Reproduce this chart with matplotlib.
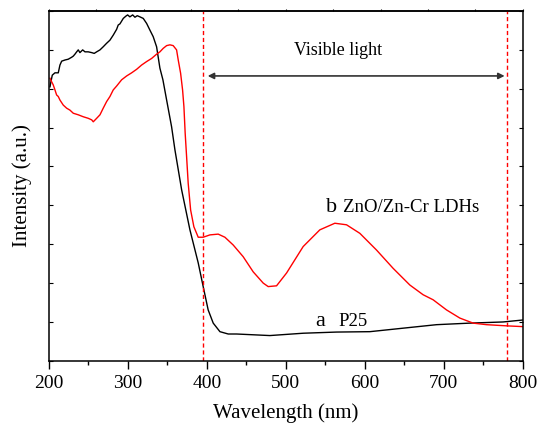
import matplotlib
matplotlib.use('Agg')
import matplotlib.pyplot as plt
import numpy as np

plt.rcParams['font.family'] = ['Liberation Serif', 'DejaVu Serif']

# ─── spectra (wavelength nm, intensity a.u.) ────────────────────
p25_wl = [201.3, 202.5, 204.2, 207.6, 211.8, 213.9, 216.1, 220.3, 224.4, 228.7,
          230.8, 232.9, 235.1, 237.1, 239.2, 242.7, 245.6, 249.7, 254.1, 257.3,
          260.4, 264.6, 268.7, 273.0, 277.2, 281.4, 285.7, 287.7, 289.9, 294.1,
          297.5, 299.6, 302.5, 306.0, 308.9, 311.8, 315.2, 319.4, 323.7, 327.8,
          332.0, 336.3, 340.5, 344.3, 349.0, 355.3, 359.5, 368.0, 378.5, 389.0,
          395.3, 401.6, 408.0, 416.5, 427.0, 437.6, 479.7, 521.9, 564.2, 606.3,
          648.5, 690.8, 732.9, 775.1, 800.0]
p25_int = [7.05, 7.18, 7.35, 7.41, 7.41, 7.61, 7.71, 7.74, 7.76, 7.81,
           7.84, 7.89, 7.95, 8.00, 7.93, 8.00, 7.95, 7.95, 7.93, 7.91,
           7.95, 8.00, 8.08, 8.17, 8.25, 8.38, 8.53, 8.64, 8.67, 8.81,
           8.87, 8.90, 8.85, 8.90, 8.84, 8.88, 8.85, 8.81, 8.68, 8.51,
           8.34, 8.08, 7.53, 7.23, 6.71, 6.02, 5.43, 4.40, 3.37, 2.52,
           1.91, 1.31, 0.97, 0.75, 0.69, 0.69, 0.65, 0.71, 0.74, 0.75,
           0.84, 0.93, 0.97, 1.00, 1.05]

ldh_wl = [201.3, 203.4, 205.4, 207.6, 209.7, 211.8, 213.9, 218.1, 222.4, 226.6,
          230.8, 237.1, 243.4, 249.7, 254.1, 256.1, 260.4, 264.6, 268.7, 273.0,
          277.2, 281.4, 285.7, 292.0, 298.4, 304.7, 311.0, 317.3, 323.7, 330.0,
          336.3, 340.5, 344.7, 349.0, 353.2, 357.3, 361.6, 363.7, 366.7, 369.2,
          370.9, 372.5, 374.3, 376.3, 379.4, 383.5, 389.0, 395.3, 403.8, 414.3,
          422.8, 433.3, 445.9, 458.6, 471.3, 477.6, 488.2, 500.9, 521.9, 543.0,
          562.0, 576.8, 593.7, 614.8, 635.8, 657.0, 673.8, 686.5, 703.4, 720.3,
          737.1, 754.1, 779.4, 800.0]
ldh_int = [7.27, 7.18, 7.10, 6.97, 6.84, 6.80, 6.71, 6.58, 6.50, 6.45,
           6.37, 6.33, 6.28, 6.24, 6.20, 6.15, 6.24, 6.33, 6.50, 6.67,
           6.80, 6.97, 7.07, 7.23, 7.33, 7.41, 7.50, 7.61, 7.70, 7.78,
           7.89, 7.95, 8.04, 8.11, 8.13, 8.11, 8.00, 7.74, 7.40, 6.97,
           6.54, 5.85, 5.25, 4.57, 3.88, 3.45, 3.18, 3.18, 3.24, 3.26,
           3.18, 2.98, 2.68, 2.29, 2.00, 1.91, 1.93, 2.26, 2.94, 3.37,
           3.54, 3.50, 3.28, 2.85, 2.38, 1.95, 1.70, 1.57, 1.31, 1.10,
           0.97, 0.93, 0.90, 0.88]

visible_edges = [395, 780]

fig = plt.figure(figsize=(5.44, 4.24), dpi=100)
ax = fig.add_axes([0.090, 0.149, 0.871, 0.825])

ax.plot(p25_wl, p25_int, color='black', linewidth=1.0)
ax.plot(ldh_wl, ldh_int, color='#ff0000', linewidth=1.0)

for edge in visible_edges:
    ax.axvline(edge, color='#ff0000', linestyle=(0, (3, 2)), linewidth=1.0)

# visible range arrow
ax.annotate('', xy=(401, 7.33), xytext=(777, 7.33),
            arrowprops=dict(arrowstyle='<|-|>', color='#333333', lw=1.2,
                            mutation_scale=9, shrinkA=0, shrinkB=0))
ax.text(566, 7.87, 'Visible light', ha='center', va='baseline', fontsize=13)

ax.text(558, 3.83, 'b', ha='center', va='baseline', fontsize=16)
ax.text(572, 3.83, 'ZnO/Zn-Cr LDHs', ha='left', va='baseline', fontsize=13.5)
ax.text(543, 0.90, 'a', ha='center', va='baseline', fontsize=16)
ax.text(566, 0.90, 'P25', ha='left', va='baseline', fontsize=13.5)

ax.set_xlim(200, 800)
ax.set_ylim(0, 9)
ax.set_xticks(np.arange(200, 801, 100))
ax.set_xticks(np.arange(250, 800, 100), minor=True)
ax.set_yticks(np.arange(0, 10, 1))
ax.set_yticklabels([])
ax.tick_params(axis='x', which='major', direction='out', length=6, width=1,
               labelsize=14, pad=4)
ax.tick_params(axis='x', which='minor', direction='out', length=3, width=1)
ax.tick_params(axis='y', which='major', direction='in', length=3, width=0.8,
               right=True)

# top axis with its own light ticks
top = ax.secondary_xaxis('top')
top.set_xticks(np.arange(200, 801, 60))
top.set_xticklabels([])
top.tick_params(direction='out', length=1.5, width=0.8)

for sp in list(ax.spines.values()) + list(top.spines.values()):
    sp.set_linewidth(1.1)

ax.set_xlabel('Wavelength (nm)', fontsize=15, labelpad=8)
ax.set_ylabel('Intensity (a.u.)', fontsize=15, labelpad=9)

fig.savefig('out.png', dpi=100)
